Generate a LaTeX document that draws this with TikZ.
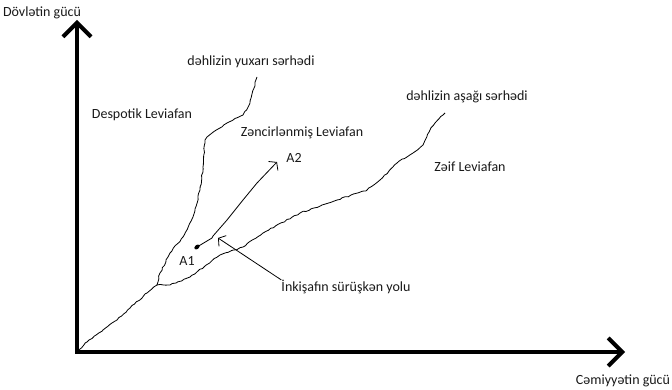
\documentclass[tikz,border=0pt]{standalone}
\usepackage{fontspec}
\setmainfont{Carlito}
\usetikzlibrary{arrows.meta,decorations.pathmorphing,shapes.geometric}

\begin{document}
\begin{tikzpicture}[
    x=1pt, y=-1pt,
    every node/.style={font=\fontsize{14}{16}\selectfont, inner sep=0pt, text=black!90},
    % 坐标轴
    axis/.style={
        line width=4pt, line join=miter,
        {Straight Barb[length=14pt,width=28pt]}-{Straight Barb[length=14pt,width=28pt]}
    },
    % 走廊边界（手绘）
    border/.style={
        line width=0.8pt,
        decorate, decoration={random steps, segment length=3pt, amplitude=0.6pt}
    },
    % 发展路径
    devpath/.style={line width=0.8pt, -{Straight Barb[length=5pt,width=13pt]}},
    pointer/.style={line width=0.8pt, -{Straight Barb[length=5pt,width=13pt]}},
    dot/.style={ellipse, fill=black, minimum width=6pt, minimum height=4pt, inner sep=0pt, rotate=40},
]
\useasboundingbox (0,0) rectangle (672,390);
\pgfmathsetseed{7}

%% ── 坐标轴 ───────────────────────────────────────────
\coordinate (O)    at (77,352);
\coordinate (ytop) at (77,20);
\coordinate (xend) at (625,352);
\draw[axis] (ytop) -- (O) -- (xend);

\node (ylab) at (42,13)  {Dövlətin gücü};
\node (xlab) at (623,381) {Cəmiyyətin gücü};

%% ── 走廊边界 ─────────────────────────────────────────
\coordinate (J)     at (157,285);  % 分叉点
\coordinate (upend) at (257,77);
\coordinate (loend) at (445,113);

% 原点 → 分叉点
\draw[border] (O) -- (87,342) -- (103,330) -- (117,320) -- (130,308) -- (147,293) -- (J);
% 上边界
\draw[border] (J) -- (160,273) -- (170,253) -- (183,237) -- (193,217) -- (200,190)
    -- (203,167) -- (205,140) -- (207,137) -- (227,123) -- (243,115) -- (250,103) -- (upend);
% 下边界
\draw[border] (J) -- (170,285) -- (190,277) -- (220,255) -- (243,247) -- (263,233)
    -- (300,213) -- (337,200) -- (367,190) -- (380,180) -- (397,163) -- (413,153)
    -- (423,145) -- (430,130) -- (435,123) -- (443,115) -- (loend);

%% ── 区域标签 ─────────────────────────────────────────
\node (upper) at (251,62)  {dəhlizin yuxarı sərhədi};
\node (lower) at (467,97)  {dəhlizin aşağı sərhədi};
\node (desp)  at (142,115) {Despotik Leviafan};
\node (chain) at (302,133) {Zəncirlənmiş Leviafan};
\node (weak)  at (470,167) {Zəif Leviafan};

%% ── 发展路径 A1 → A2 ────────────────────────────────
\node[dot] (A1dot) at (197,247) {};
\coordinate (A2tip) at (277,162);
\node (A1) at (187,261) {A1};
\node (A2) at (294,158) {A2};

\draw[devpath] (A1dot.center) -- (212,238) -- (213,236) -- (227,220) -- (243,200)
    -- (257,183) -- (A2tip);

% 说明箭头
\node (ink) at (346,287) {İnkişafın sürüşkən yolu};
\coordinate (devtip) at (218,238);
\draw[pointer] (ink.north west) -- (devtip);

\end{tikzpicture}
\end{document}
